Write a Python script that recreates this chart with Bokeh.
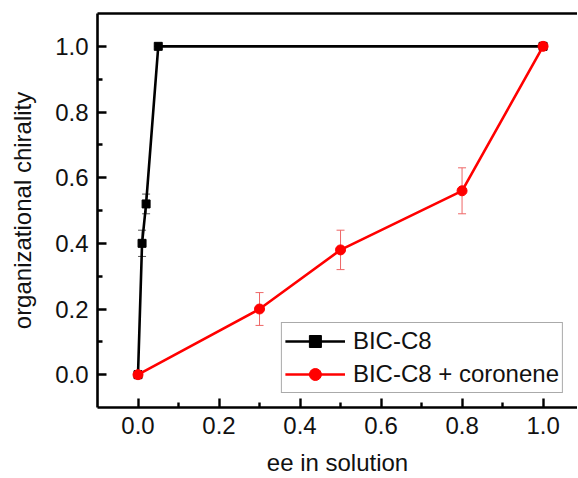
from bokeh.plotting import figure
from bokeh.models import (ColumnDataSource, Whisker, TeeHead, LinearAxis, FixedTicker,
                          Range1d, Legend, LegendItem, NumeralTickFormatter)
from bokeh.embed import file_html
from bokeh.resources import INLINE

# data
bic_x = [0.0, 0.01, 0.02, 0.05, 1.0]
bic_y = [0.0, 0.40, 0.52, 1.0, 1.0]
bic_err = [0.0, 0.04, 0.03, 0.0, 0.0]

cor_x = [0.0, 0.3, 0.5, 0.8, 1.0]
cor_y = [0.0, 0.20, 0.38, 0.56, 1.0]
cor_err = [0.0, 0.05, 0.06, 0.07, 0.0]

x_ticks = [0.0, 0.2, 0.4, 0.6, 0.8, 1.0]
y_ticks = [0.0, 0.2, 0.4, 0.6, 0.8, 1.0]
x_minor = [0.1, 0.3, 0.5, 0.7, 0.9]
y_minor = [0.1, 0.3, 0.5, 0.7, 0.9]

FONT = "Liberation Sans"

p = figure(width=577, height=478, output_backend="svg", toolbar_location=None,
           x_range=Range1d(-0.1, 1.085), y_range=Range1d(-0.1, 1.1),
           min_border_left=97, min_border_right=0, min_border_top=13, min_border_bottom=60,
           background_fill_color="white", border_fill_color="white")
p.outline_line_color = None
p.xgrid.visible = False
p.ygrid.visible = False

def src(x, y, e):
    return ColumnDataSource(dict(x=x, y=y, lo=[a - b for a, b in zip(y, e)],
                                 hi=[a + b for a, b in zip(y, e)]))

s1 = src(bic_x, bic_y, bic_err)
s2 = src(cor_x, cor_y, cor_err)

w1 = Whisker(source=s1, base="x", lower="lo", upper="hi", line_color="#555555", line_width=1,
             upper_head=TeeHead(size=8, line_color="#555555", line_width=1),
             lower_head=TeeHead(size=8, line_color="#555555", line_width=1))
w2 = Whisker(source=s2, base="x", lower="lo", upper="hi", line_color="#ee6666", line_width=1,
             upper_head=TeeHead(size=8, line_color="#ee6666", line_width=1),
             lower_head=TeeHead(size=8, line_color="#ee6666", line_width=1))
p.add_layout(w1)
p.add_layout(w2)

l1 = p.line("x", "y", source=s1, line_color="black", line_width=2.6)
m1 = p.scatter("x", "y", source=s1, marker="square", size=8, color="black")
l2 = p.line("x", "y", source=s2, line_color="#ff0000", line_width=2.6)
m2 = p.scatter("x", "y", source=s2, marker="circle", size=10, color="#ff0000")

for ax, ticks, minor in ((p.xaxis[0], x_ticks, x_minor), (p.yaxis[0], y_ticks, y_minor)):
    ax.ticker = FixedTicker(ticks=ticks, minor_ticks=minor)
    ax.formatter = NumeralTickFormatter(format="0.0")
    ax.major_tick_in = 9
    ax.major_tick_out = 0
    ax.minor_tick_in = 5
    ax.minor_tick_out = 0
    ax.axis_line_width = 2.6
    ax.major_tick_line_width = 2.4
    ax.minor_tick_line_width = 2.4
    ax.major_label_text_font = FONT
    ax.major_label_text_font_size = "24px"
    ax.major_label_text_color = "#111111"
    ax.axis_label_text_font = FONT
    ax.axis_label_text_font_size = "24px"
    ax.axis_label_text_font_style = "normal"
    ax.axis_label_text_color = "#111111"

p.xaxis[0].axis_label = "ee in solution"
p.yaxis[0].axis_label = "organizational chirality"
p.xaxis[0].major_label_standoff = 9
p.yaxis[0].major_label_standoff = 9
p.xaxis[0].axis_label_standoff = 12
p.yaxis[0].axis_label_standoff = 16

top = LinearAxis(ticker=FixedTicker(ticks=[]), axis_line_width=2.6, major_tick_in=0, major_tick_out=0,
                 minor_tick_in=0, minor_tick_out=0, major_label_text_font_size="0px",
                 major_label_standoff=0)
p.add_layout(top, "above")

legend = Legend(items=[LegendItem(label="BIC-C8", renderers=[l1, m1]),
                       LegendItem(label="BIC-C8 + coronene", renderers=[l2, m2])],
                location="bottom_right", margin=14, padding=3, spacing=3,
                glyph_width=60, glyph_height=30, label_standoff=8,
                label_text_font=FONT, label_text_font_size="24px", label_text_color="#111111",
                border_line_color="#555555", border_line_width=1, label_height=30)
p.add_layout(legend, "center")

open("out.html", "w").write(file_html(p, INLINE))
